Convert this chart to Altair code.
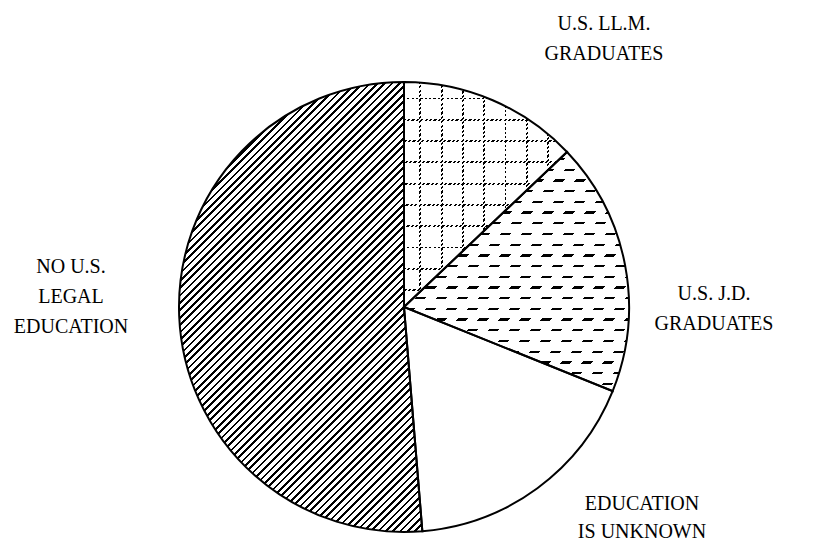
import math
import altair as alt
import pandas as pd

# ---- data ----
categories = ["U.S. LL.M. Graduates", "U.S. J.D. Graduates",
              "Education Is Unknown", "No U.S. Legal Education"]
shares = [12.9, 18.2, 17.6, 51.3]
label_lines = ["U.S. LL.M.\nGraduates", "U.S. J.D.\nGraduates",
               "Education\nIs Unknown", "No U.S.\nLegal\nEducation"]

df = pd.DataFrame({
    "category": categories,
    "share": shares,
    "order": list(range(len(categories))),
    "label": [t.upper() for t in label_lines],
})
TOTAL = sum(shares)

# ---- layout / style ----
CX, CY, R = 396, 299, 225
W, H = 807, 534


def slice_bbox(i):
    a0 = sum(shares[:i]) / TOTAL * 360
    a1 = sum(shares[:i + 1]) / TOTAL * 360
    pts = [(CX, CY)]
    angs = [a0, a1] + [a for a in (0, 90, 180, 270, 360) if a0 < a < a1]
    for a in angs:
        r = math.radians(a)
        pts.append((CX + R * math.sin(r), CY - R * math.cos(r)))
    xs = [p[0] for p in pts]
    ys = [p[1] for p in pts]
    return max(xs) - min(xs), max(ys) - min(ys)


def make_stops(span, period, line_w, line_col, bg_col, phase=0.0):
    n = int(math.ceil(span / period)) + 2
    stops = []
    start = -phase
    for k in range(n):
        p0 = (start + k * period) / span
        p1 = (start + k * period + line_w) / span
        p2 = (start + (k + 1) * period) / span
        for off, col in ((p0, line_col), (p1, line_col), (p1, bg_col), (p2, bg_col)):
            o = min(max(off, 0.0), 1.0)
            stops.append({"offset": round(o, 5), "color": col})
    return stops


def diag_grad(w, h, period, line_w, line_col, bg_col):
    k = w / h
    s = (k + 1) / (k * k + 1)
    span = (w + h) / math.sqrt(2)
    return {"gradient": "linear", "x1": 0, "y1": 0, "x2": round(s * k, 5), "y2": round(s, 5),
            "stops": make_stops(span, period, line_w, line_col, bg_col)}


def horiz_grad(w, h, period, line_w, line_col, bg_col, phase=0.0):
    return {"gradient": "linear", "x1": 0, "y1": 0, "x2": 0, "y2": 1,
            "stops": make_stops(h, period, line_w, line_col, bg_col, phase)}


def vert_grad(w, h, period, line_w, line_col, bg_col, phase=0.0):
    return {"gradient": "linear", "x1": 0, "y1": 0, "x2": 1, "y2": 0,
            "stops": make_stops(w, period, line_w, line_col, bg_col, phase)}


CLEAR = "rgba(255,255,255,0)"

base = alt.Chart(df).transform_window(
    end="sum(share)", sort=[alt.SortField("order")], frame=[None, 0]
).transform_calculate(start="datum.end - datum.share")

theta_scale = alt.Scale(domain=[0, TOTAL], range=[0, 2 * math.pi])


def arc_layer(cat_idx, fill, stroke=None, stroke_w=0):
    ch = base
    if cat_idx is not None:
        ch = ch.transform_filter(alt.datum.order == cat_idx)
    kw = dict(outerRadius=R, fill=fill, strokeWidth=stroke_w)
    if stroke is not None:
        kw["stroke"] = stroke
    return ch.mark_arc(**kw).encode(
        theta=alt.Theta("start:Q", scale=theta_scale),
        theta2="end:Q",
        x=alt.value(CX), y=alt.value(CY),
    )


w0, h0 = slice_bbox(0)
w1, h1 = slice_bbox(1)
w3, h3 = slice_bbox(3)

layers = [
    arc_layer(None, "white"),
    # No U.S. legal education: diagonal hatching
    arc_layer(3, diag_grad(w3, h3, 5.2, 1.9, "black", "white")),
    # LL.M.: dotted grid
    arc_layer(0, horiz_grad(w0, h0, 21.3, 1.8, "black", CLEAR, phase=21.3 - 15.5)),
    arc_layer(0, vert_grad(w0, h0, 21.3, 1.8, "black", CLEAR, phase=21.3 - 15.5)),
    arc_layer(0, diag_grad(w0, h0, 3.1, 1.5, "white", CLEAR)),
    # J.D.: staggered dashes
    arc_layer(1, horiz_grad(w1, h1, 10.7, 2.3, "black", "white", phase=10.7 - 6)),
    arc_layer(1, diag_grad(w1, h1, 14.85, 7.4, "white", CLEAR)),
    # outlines
    arc_layer(None, None, stroke="black", stroke_w=2),
]

label_pos = {0: (596, 22, 30), 1: (706, 292, 30), 2: (634, 502, 28), 3: (63, 265, 30)}
for idx, (lx, ly, lh) in label_pos.items():
    layers.append(
        alt.Chart(df).transform_filter(alt.datum.order == idx).mark_text(
            font="Liberation Serif", fontSize=20, color="black", align="center",
            baseline="alphabetic", lineBreak="\n", lineHeight=lh,
        ).encode(text="label:N", x=alt.value(lx), y=alt.value(ly))
    )

chart = alt.layer(*layers).properties(
    width=W, height=H, autosize=alt.AutoSizeParams(type="none"), padding=0,
    background="white",
).configure_view(stroke=None)

chart.save("out.html", embed_options={"renderer": "svg", "actions": False})
